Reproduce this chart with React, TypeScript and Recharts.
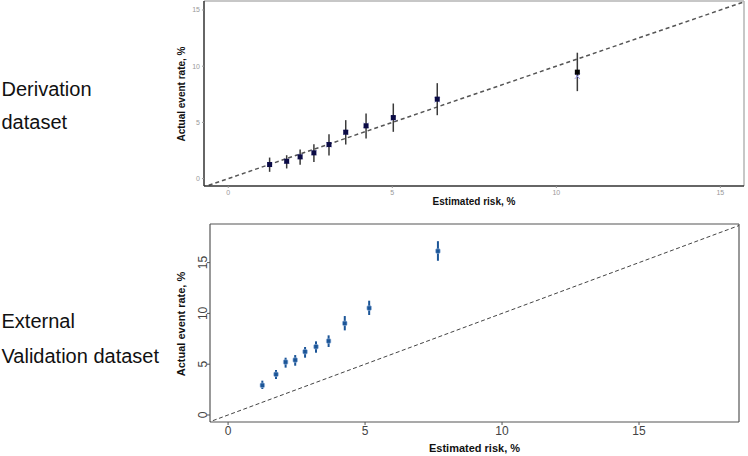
import React from 'react';
import { ScatterChart, Scatter, XAxis, YAxis, ErrorBar, ReferenceLine } from 'recharts';

// ---- Derivation dataset (top) ----
const topEstimated = [1.26, 1.78, 2.19, 2.61, 3.07, 3.58, 4.2, 5.03, 6.37, 10.64];
const topActual = [1.25, 1.54, 1.93, 2.29, 3.03, 4.13, 4.69, 5.43, 7.07, 9.47];
const topLower = [0.6, 0.9, 1.22, 1.48, 2.05, 3.03, 3.56, 4.16, 5.64, 7.78];
const topUpper = [1.87, 2.08, 2.58, 3.06, 3.95, 5.2, 5.79, 6.68, 8.49, 11.2];
const topSecondary = [1.25, 1.55, 1.95, 2.3, 3.0, 4.1, 4.75, 5.35, 7.0, 9.1];

// ---- External validation dataset (bottom) ----
const botEstimated = [1.25, 1.75, 2.1, 2.45, 2.81, 3.21, 3.67, 4.26, 5.15, 7.66];
const botActual = [2.92, 4.0, 5.21, 5.41, 6.23, 6.72, 7.28, 9.02, 10.52, 16.13];
const botLower = [2.56, 3.54, 4.66, 4.85, 5.64, 6.13, 6.69, 8.33, 9.84, 15.18];
const botUpper = [3.38, 4.43, 5.64, 5.9, 6.69, 7.25, 7.84, 9.74, 11.25, 17.11];

const tickValues = [0, 5, 10, 15];
const labelLines = ['Derivation', 'dataset', 'External', 'Validation dataset'];
const xTitle = 'Estimated risk, %';
const yTitle = 'Actual event rate, %';

const topData = topEstimated.map((x, i) => ({
  x,
  y: topActual[i],
  err: [topActual[i] - topLower[i], topUpper[i] - topActual[i]],
  last: i === topEstimated.length - 1,
}));
const topAltData = topEstimated.map((x, i) => ({ x, y: topSecondary[i] }));
const botData = botEstimated.map((x, i) => ({
  x,
  y: botActual[i],
  err: [botActual[i] - botLower[i], botUpper[i] - botActual[i]],
}));

const FONT = '"Liberation Sans", Arial, sans-serif';

const topXDomain: [number, number] = [-0.74, 15.72];
const topYDomain: [number, number] = [-0.66, 15.8];
const botXDomain: [number, number] = [-0.66, 18.65];
const botYDomain: [number, number] = [-0.69, 18.8];

const TopSquare = (props: any) => {
  const { cx, cy, payload } = props;
  const s = 5;
  return <rect x={cx - s / 2} y={cy - s / 2} width={s} height={s} fill={payload && payload.last ? '#050505' : '#0b0b45'} />;
};
const Cross = (props: any) => {
  const { cx, cy } = props;
  const r = 2.5;
  return (
    <g stroke="#8f8fe6" strokeWidth={1}>
      <line x1={cx - r} y1={cy - r} x2={cx + r} y2={cy + r} />
      <line x1={cx - r} y1={cy + r} x2={cx + r} y2={cy - r} />
    </g>
  );
};
const BotSquare = (props: any) => {
  const { cx, cy } = props;
  const s = 4.5;
  return <rect x={cx - s / 2} y={cy - s / 2} width={s} height={s} rx={1} fill="#1b5597" stroke="#9dbbe0" strokeWidth={0.6} />;
};

const RotTick = (props: any) => {
  const { x, y, payload } = props;
  return (
    <text x={x} y={y} transform={`rotate(-90, ${x}, ${y})`} textAnchor="middle" fontSize={12} fill="#444" fontFamily={FONT}>
      {payload.value}
    </text>
  );
};

export default function App() {
  return (
    <div style={{ position: 'absolute', left: 0, top: 0, width: 748, height: 456, background: '#fff', fontFamily: FONT }}>
      <div style={{ position: 'absolute', left: 0, top: 0 }}>
        <ScatterChart width={748} height={215} margin={{ top: 1, right: 4, left: 0, bottom: 0 }}>
          <XAxis
            type="number"
            dataKey="x"
            domain={topXDomain}
            allowDataOverflow
            ticks={tickValues}
            height={29}
            tickSize={2}
            tickMargin={2}
            tick={{ fontSize: 7, fill: '#999', fontFamily: FONT }}
            tickLine={{ stroke: '#999' }}
            axisLine={{ stroke: '#333', strokeWidth: 1.5 }}
          />
          <YAxis
            type="number"
            dataKey="y"
            domain={topYDomain}
            allowDataOverflow
            ticks={tickValues}
            width={204}
            tickSize={2}
            tickMargin={2}
            tick={{ fontSize: 7, fill: '#999', fontFamily: FONT }}
            tickLine={{ stroke: '#999' }}
            axisLine={{ stroke: '#333', strokeWidth: 1.5 }}
          />
          <ReferenceLine y={topYDomain[1]} ifOverflow="visible" stroke="#b5b5b5" strokeWidth={1.5} />
          <ReferenceLine x={topXDomain[1]} ifOverflow="visible" stroke="#b5b5b5" strokeWidth={1.5} />
          <ReferenceLine
            segment={[{ x: -1, y: -1 }, { x: 17, y: 17 }]}
            ifOverflow="hidden"
            stroke="#555"
            strokeWidth={1.5}
            strokeDasharray="4 3"
          />
          <Scatter data={topAltData} shape={Cross} isAnimationActive={false} />
          <Scatter data={topData} shape={TopSquare} isAnimationActive={false}>
            <ErrorBar dataKey="err" direction="y" width={0} stroke="#3a3a3a" strokeWidth={1.5} isAnimationActive={false} />
          </Scatter>
        </ScatterChart>
      </div>
      <div style={{ position: 'absolute', left: 0, top: 215 }}>
        <ScatterChart width={748} height={241} margin={{ top: 9, right: 9, left: 0, bottom: 0 }}>
          <XAxis
            type="number"
            dataKey="x"
            domain={botXDomain}
            allowDataOverflow
            ticks={tickValues}
            height={34}
            tickSize={3}
            tickMargin={1}
            tick={{ fontSize: 12, fill: '#444', fontFamily: FONT }}
            tickLine={{ stroke: '#555' }}
            axisLine={{ stroke: '#555', strokeWidth: 1.2 }}
          />
          <YAxis
            type="number"
            dataKey="y"
            domain={botYDomain}
            allowDataOverflow
            ticks={tickValues}
            width={210}
            tickSize={3}
            tickMargin={0}
            tick={<RotTick />}
            tickLine={{ stroke: '#555' }}
            axisLine={{ stroke: '#555', strokeWidth: 1.2 }}
          />
          <ReferenceLine y={botYDomain[1]} ifOverflow="visible" stroke="#555" strokeWidth={1.2} />
          <ReferenceLine x={botXDomain[1]} ifOverflow="visible" stroke="#555" strokeWidth={1.2} />
          <ReferenceLine
            segment={[{ x: -1, y: -1 }, { x: 20, y: 20 }]}
            ifOverflow="hidden"
            stroke="#444"
            strokeWidth={1}
            strokeDasharray="4 2.5"
          />
          <Scatter data={botData} shape={BotSquare} isAnimationActive={false}>
            <ErrorBar dataKey="err" direction="y" width={0} stroke="#1b5597" strokeWidth={2} isAnimationActive={false} />
          </Scatter>
        </ScatterChart>
      </div>
      <svg width={748} height={456} style={{ position: 'absolute', left: 0, top: 0, pointerEvents: 'none' }}>
        <g fontFamily={FONT} fontSize={20} fill="#111">
          <text x={1.5} y={96}>{labelLines[0]}</text>
          <text x={1.5} y={129}>{labelLines[1]}</text>
          <text x={1.5} y={328}>{labelLines[2]}</text>
          <text x={1.5} y={363}>{labelLines[3]}</text>
        </g>
        <g fontFamily={FONT} fontWeight="bold" fill="#111" textAnchor="middle">
          <text x={184.5} y={94} fontSize={10} transform="rotate(-90, 184.5, 94)">{yTitle}</text>
          <text x={474} y={205.3} fontSize={10}>{xTitle}</text>
          <text x={185} y={324} fontSize={11} transform="rotate(-90, 185, 324)">{yTitle}</text>
          <text x={474.5} y={452} fontSize={11}>{xTitle}</text>
        </g>
      </svg>
    </div>
  );
}
